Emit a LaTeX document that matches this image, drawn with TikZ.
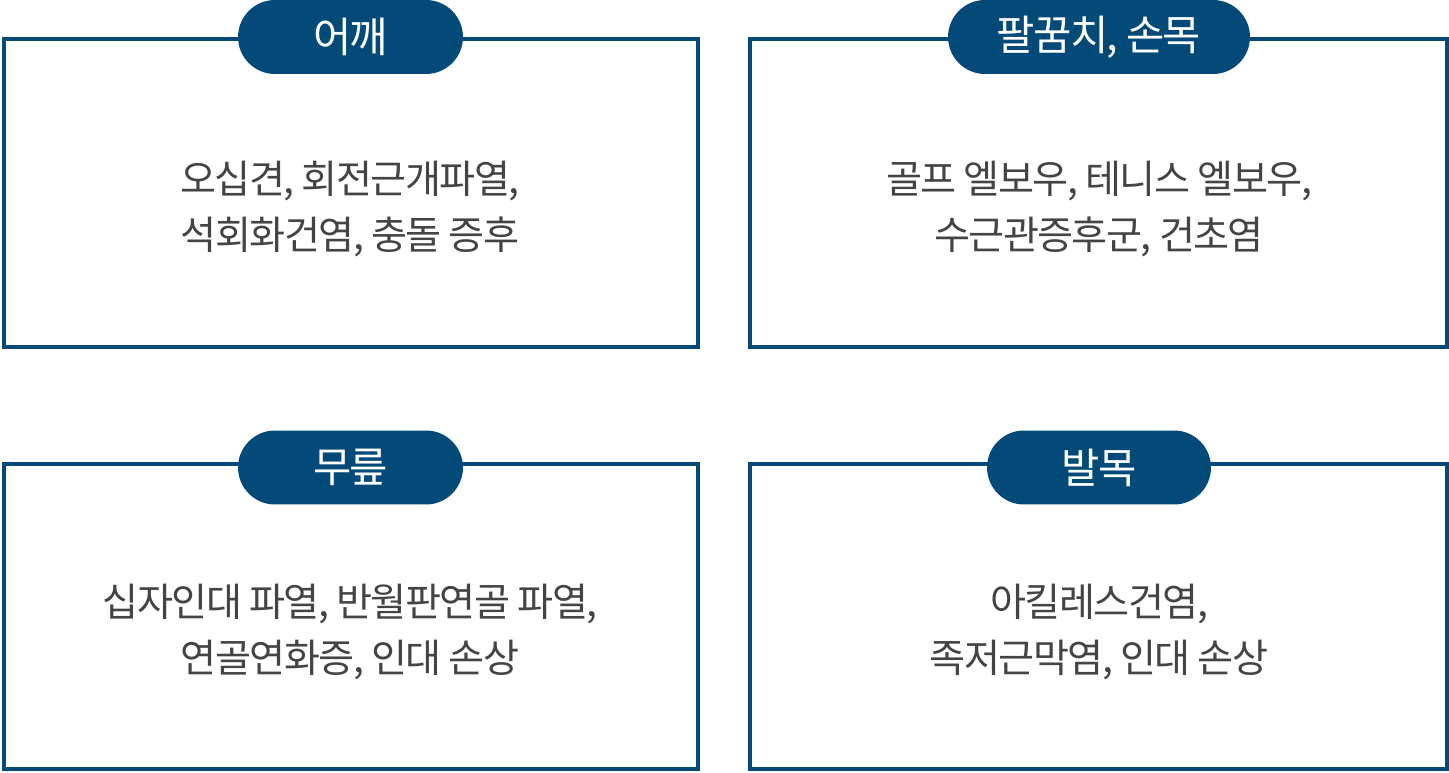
\documentclass[tikz,border=0pt]{standalone}
\usepackage{fontspec}
\setmainfont{Noto Sans CJK KR}[LetterSpace=-4]
\usepackage{tikz}
\usetikzlibrary{shapes.misc}

\definecolor{navy}{HTML}{034A78}
\definecolor{ink}{HTML}{444444}

\begin{document}
\begin{tikzpicture}[x=0.02cm, y=-0.02cm, line cap=butt, line join=miter,
  panel/.style={draw=navy, line width=0.08cm, fill=white},
  tag/.style={rounded rectangle, fill=navy, text=white, inner sep=0pt,
    minimum height=1.48cm, font=\fontsize{23.7pt}{27pt}\selectfont},
  body/.style={align=center, text=ink, inner sep=0pt,
    font=\fontsize{22.3pt}{32.3pt}\selectfont}]
  \useasboundingbox[fill=white] (0,0) rectangle (1449,773);
  % frames
  \draw[panel] (4,39.5) rectangle (698,347);
  \draw[panel] (750,39.5) rectangle (1447,347);
  \draw[panel] (4,464) rectangle (698,769);
  \draw[panel] (750,464) rectangle (1447,769);
  % headings
  \node[tag, minimum width=4.5cm] (shoulder) at (350.5,37) {어깨};
  \node[tag, minimum width=6.04cm] (elbow) at (1099,37) {팔꿈치, 손목};
  \node[tag, minimum width=4.5cm] (knee) at (350.5,467.5) {무릎};
  \node[tag, minimum width=4.48cm] (ankle) at (1099,467.5) {발목};
  % contents
  \node[body] (shoulderTxt) at (350,209) {오십견, 회전근개파열,\\석회화건염, 충돌 증후};
  \node[body] (elbowTxt) at (1099,209) {골프 엘보우, 테니스 엘보우,\\수근관증후군, 건초염};
  \node[body] (kneeTxt) at (350,632) {십자인대 파열, 반월판연골 파열,\\연골연화증, 인대 손상};
  \node[body] (ankleTxt) at (1099,632) {아킬레스건염,\\족저근막염, 인대 손상};
\end{tikzpicture}
\end{document}
